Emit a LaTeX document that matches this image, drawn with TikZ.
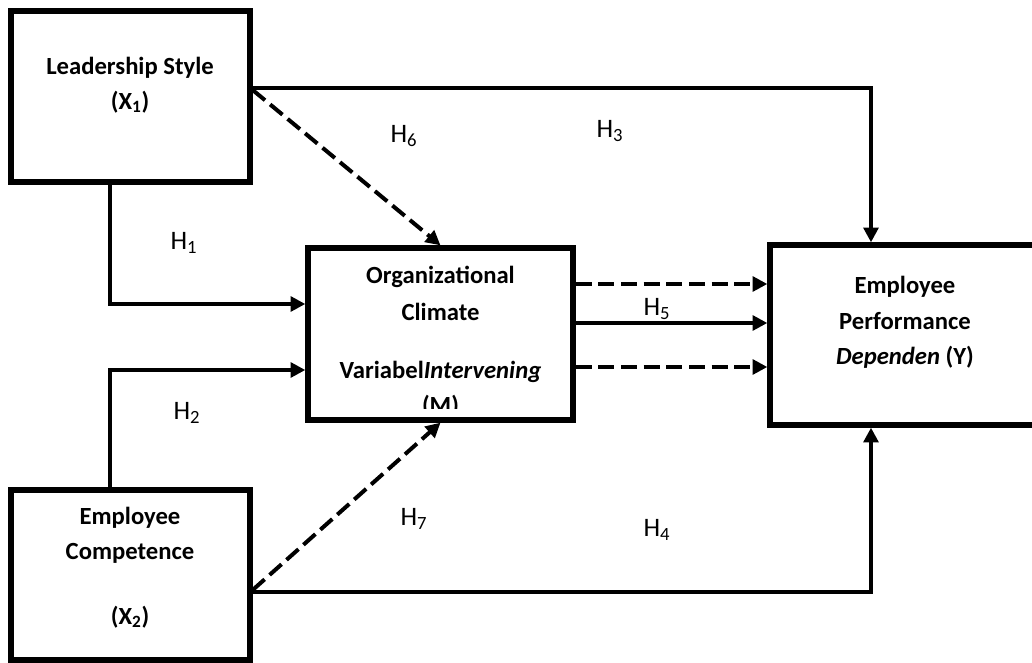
\documentclass[tikz,border=0pt]{standalone}
\usepackage{fontspec}
\setmainfont{Carlito}
\usetikzlibrary{arrows.meta}

\tikzset{
  box/.style={draw, line width=4pt, inner sep=0pt},
  boxtext/.style={font=\bfseries\fontsize{18.5}{26.5}\selectfont, align=center},
  hyp/.style={font=\fontsize{20}{22}\selectfont},
  arr/.style={line width=3pt, -{Triangle[length=11pt,width=11pt]}},
  darr/.style={arr, dash pattern=on 12pt off 5pt},
}

\begin{document}
\begin{tikzpicture}[x=0.75pt, y=-0.75pt]
    \useasboundingbox (0,0) rectangle (1032,663);
    % variables
    \node [box, minimum width=179.25pt, minimum height=128.25pt] (X1) at (130.5,96.5) {};
    \node [box, minimum width=179.25pt, minimum height=127.5pt] (X2) at (130.5,575) {};
    \node [box, minimum width=198.75pt, minimum height=129pt] (M) at (440.5,334) {};
    \node [box, minimum width=202.5pt, minimum height=135pt] (Y) at (905,335) {};
    % texts
    \node [boxtext] (tx1) at (130,85) {Leadership Style\\(X\textsubscript{1})};
    \node [boxtext] (tx2) at (130,535.5) {Employee\\Competence};
    \node [boxtext] (tx2b) at (130,617) {(X\textsubscript{2})};
    \node [boxtext, font=\bfseries\fontsize{18.5}{27.5}\selectfont] (tm) at (440.5,293.5) {Organizational\\Climate};
    \begin{scope}
      \clip (308,250) rectangle (573,408);
      \node [boxtext] (tmb) at (440.5,389) {Variabel\textit{Intervening}\\(M)};
    \end{scope}
    \node [boxtext] (ty) at (905,322.5) {Employee\\Performance\\\textit{Dependen} (Y)};
    % direct paths
    \draw [arr] (X1.east |- 0,88) -| (Y.north -| 871,0);
    \draw [arr] (X2.east |- 0,592) -| (Y.south -| 871,0);
    \draw [arr] (X1.south -| 110,0) |- (M.west |- 0,304);
    \draw [arr] (X2.north -| 110,0) |- (M.west |- 0,370);
    \draw [darr] (X1.east |- 0,90) -- (M.north);
    \draw [darr] (X2.east |- 0,590) -- (M.south);
    % M to Y
    \draw [darr] (M.east |- 0,284) -- (Y.west |- 0,284);
    \draw [arr] (M.east |- 0,323) -- (Y.west |- 0,323);
    \draw [darr] (M.east |- 0,367) -- (Y.west |- 0,367);
    % hypotheses
    \node [hyp] (h1) at (184,243) {H\textsubscript{1}};
    \node [hyp] (h2) at (187,413) {H\textsubscript{2}};
    \node [hyp] (h3) at (610,131) {H\textsubscript{3}};
    \node [hyp] (h4) at (657,530) {H\textsubscript{4}};
    \node [hyp] (h5) at (657,309) {H\textsubscript{5}};
    \node [hyp] (h6) at (404,136) {H\textsubscript{6}};
    \node [hyp] (h7) at (414,519) {H\textsubscript{7}};
\end{tikzpicture}
\end{document}
